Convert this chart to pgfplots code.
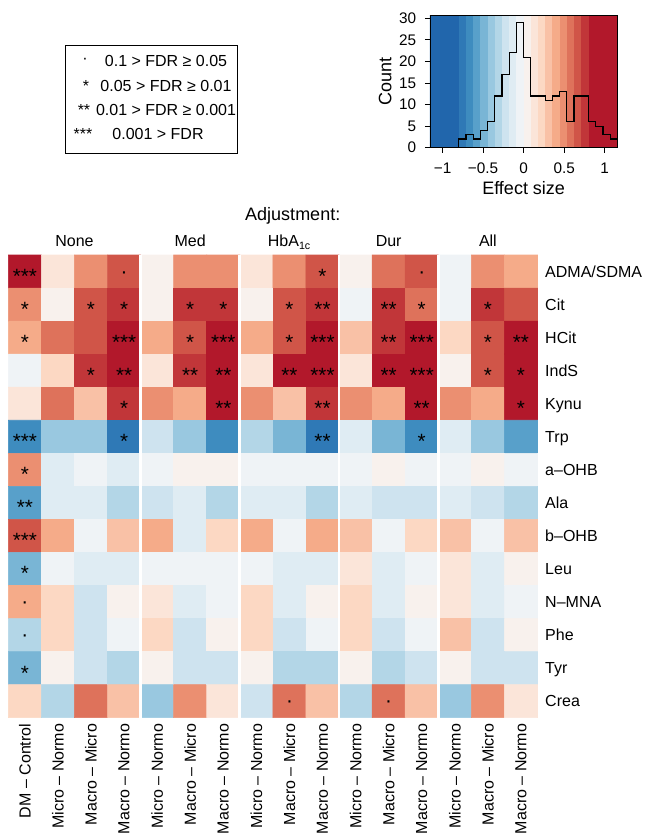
\documentclass[border=0pt]{standalone}
\usepackage{fontspec}
\setmainfont{Liberation Sans}
\usepackage{pgfplots}
\pgfplotsset{compat=1.18}
\newcommand\fA{\fontsize{12}{14}\selectfont}
\newcommand\fB{\fontsize{13.5}{16}\selectfont}
\newcommand\fS{\fontsize{15.5}{18}\selectfont}
\newcommand\fT{\fontsize{11.5}{14}\selectfont}
\newcommand\fL{\fontsize{13.5}{16}\selectfont}
\newcommand\starbox[1]{\raisebox{-0.58em}[0pt][0pt]{#1}}
\newcommand\dotbox[1]{\raisebox{-0.33em}[0pt][0pt]{#1}}
\definecolor{rb0}{RGB}{33,102,172}
\definecolor{rb1}{RGB}{47,121,182}
\definecolor{rb2}{RGB}{62,140,191}
\definecolor{rb3}{RGB}{88,160,202}
\definecolor{rb4}{RGB}{121,181,213}
\definecolor{rb5}{RGB}{153,200,224}
\definecolor{rb6}{RGB}{179,214,231}
\definecolor{rb7}{RGB}{206,227,239}
\definecolor{rb8}{RGB}{223,236,243}
\definecolor{rb9}{RGB}{239,243,246}
\definecolor{rb10}{RGB}{248,241,237}
\definecolor{rb11}{RGB}{251,229,217}
\definecolor{rb12}{RGB}{252,216,195}
\definecolor{rb13}{RGB}{249,193,166}
\definecolor{rb14}{RGB}{245,171,137}
\definecolor{rb15}{RGB}{235,143,113}
\definecolor{rb16}{RGB}{222,114,91}
\definecolor{rb17}{RGB}{208,85,72}
\definecolor{rb18}{RGB}{193,54,57}
\definecolor{rb19}{RGB}{178,24,43}
\pgfplotsset{colormap={rdbu}{rgb255=(33,102,172) rgb255=(47,121,182) rgb255=(62,140,191) rgb255=(88,160,202) rgb255=(121,181,213) rgb255=(153,200,224) rgb255=(179,214,231) rgb255=(206,227,239) rgb255=(223,236,243) rgb255=(239,243,246) rgb255=(248,241,237) rgb255=(251,229,217) rgb255=(252,216,195) rgb255=(249,193,166) rgb255=(245,171,137) rgb255=(235,143,113) rgb255=(222,114,91) rgb255=(208,85,72) rgb255=(193,54,57) rgb255=(178,24,43)}}
\begin{document}
\begin{tikzpicture}[x=0.75pt,y=0.75pt]
\useasboundingbox (0,0) rectangle (646,834);

% ---------------- heatmap ----------------
\begin{axis}[
  at={(204.675pt,260.74pt)}, anchor=center,
  scale only axis, width=396.9pt, height=347pt,
  xmin=-0.5, xmax=15.5, ymin=-0.5, ymax=13.5, y dir=reverse,
  axis line style={draw=none}, major tick length=0pt,
  xtick={0,...,15},
  xticklabels={DM – Control, Micro – Normo, Macro – Micro, Macro – Normo, Micro – Normo, Macro – Micro, Macro – Normo, Micro – Normo, Macro – Micro, Macro – Normo, Micro – Normo, Macro – Micro, Macro – Normo, Micro – Normo, Macro – Micro, Macro – Normo},
  ytick={0,...,13},
  yticklabels={ADMA/SDMA, Cit, HCit, IndS, Kynu, Trp, a–OHB, Ala, b–OHB, Leu, N–MNA, Phe, Tyr, Crea},
  yticklabel pos=right,
  xticklabel style={font=\fA, inner sep=0pt, yshift=-4.4pt, rotate=90, anchor=east},
  yticklabel style={font=\fA, inner sep=0pt, anchor=base west, xshift=5.6pt, yshift=-4.3pt},
  colormap name=rdbu, point meta min=0, point meta max=19,
  clip=false,
]
\addplot[matrix plot*, mesh/cols=16, point meta=explicit] coordinates {
(0,0)[19] (1,0)[11] (2,0)[15] (3,0)[17] (4,0)[10] (5,0)[15] (6,0)[15] (7,0)[11] (8,0)[15] (9,0)[17] (10,0)[10] (11,0)[16] (12,0)[17] (13,0)[9] (14,0)[15] (15,0)[14]
(0,1)[15] (1,1)[10] (2,1)[17] (3,1)[18] (4,1)[10] (5,1)[18] (6,1)[18] (7,1)[10] (8,1)[17] (9,1)[18] (10,1)[9] (11,1)[18] (12,1)[16] (13,1)[9] (14,1)[18] (15,1)[17]
(0,2)[14] (1,2)[16] (2,2)[17] (3,2)[19] (4,2)[14] (5,2)[17] (6,2)[19] (7,2)[14] (8,2)[17] (9,2)[19] (10,2)[13] (11,2)[18] (12,2)[19] (13,2)[12] (14,2)[17] (15,2)[19]
(0,3)[9] (1,3)[12] (2,3)[18] (3,3)[19] (4,3)[11] (5,3)[18] (6,3)[19] (7,3)[11] (8,3)[19] (9,3)[19] (10,3)[11] (11,3)[19] (12,3)[19] (13,3)[10] (14,3)[17] (15,3)[19]
(0,4)[11] (1,4)[16] (2,4)[13] (3,4)[18] (4,4)[15] (5,4)[14] (6,4)[19] (7,4)[15] (8,4)[13] (9,4)[18] (10,4)[15] (11,4)[14] (12,4)[19] (13,4)[15] (14,4)[14] (15,4)[19]
(0,5)[2] (1,5)[5] (2,5)[5] (3,5)[1] (4,5)[7] (5,5)[5] (6,5)[2] (7,5)[6] (8,5)[4] (9,5)[1] (10,5)[8] (11,5)[4] (12,5)[2] (13,5)[8] (14,5)[5] (15,5)[3]
(0,6)[15] (1,6)[8] (2,6)[9] (3,6)[8] (4,6)[9] (5,6)[10] (6,6)[10] (7,6)[9] (8,6)[9] (9,6)[9] (10,6)[9] (11,6)[10] (12,6)[9] (13,6)[9] (14,6)[10] (15,6)[9]
(0,7)[3] (1,7)[8] (2,7)[8] (3,7)[6] (4,7)[7] (5,7)[8] (6,7)[6] (7,7)[8] (8,7)[8] (9,7)[6] (10,7)[8] (11,7)[7] (12,7)[7] (13,7)[8] (14,7)[7] (15,7)[6]
(0,8)[17] (1,8)[14] (2,8)[9] (3,8)[13] (4,8)[14] (5,8)[8] (6,8)[12] (7,8)[14] (8,8)[9] (9,8)[14] (10,8)[13] (11,8)[9] (12,8)[12] (13,8)[13] (14,8)[9] (15,8)[13]
(0,9)[4] (1,9)[9] (2,9)[8] (3,9)[8] (4,9)[9] (5,9)[9] (6,9)[9] (7,9)[9] (8,9)[8] (9,9)[8] (10,9)[11] (11,9)[8] (12,9)[9] (13,9)[11] (14,9)[8] (15,9)[10]
(0,10)[14] (1,10)[12] (2,10)[7] (3,10)[10] (4,10)[11] (5,10)[8] (6,10)[9] (7,10)[12] (8,10)[8] (9,10)[10] (10,10)[12] (11,10)[8] (12,10)[10] (13,10)[11] (14,10)[8] (15,10)[9]
(0,11)[6] (1,11)[12] (2,11)[7] (3,11)[9] (4,11)[12] (5,11)[7] (6,11)[10] (7,11)[12] (8,11)[7] (9,11)[9] (10,11)[12] (11,11)[7] (12,11)[9] (13,11)[13] (14,11)[7] (15,11)[10]
(0,12)[4] (1,12)[10] (2,12)[7] (3,12)[6] (4,12)[10] (5,12)[7] (6,12)[7] (7,12)[10] (8,12)[6] (9,12)[6] (10,12)[10] (11,12)[6] (12,12)[7] (13,12)[10] (14,12)[7] (15,12)[7]
(0,13)[12] (1,13)[6] (2,13)[16] (3,13)[13] (4,13)[5] (5,13)[15] (6,13)[11] (7,13)[7] (8,13)[16] (9,13)[13] (10,13)[6] (11,13)[16] (12,13)[13] (13,13)[5] (14,13)[15] (15,13)[11]
};
\addplot[white, line width=2pt, forget plot] coordinates {(3.5,-0.5) (3.5,13.5)};
\addplot[white, line width=2pt, forget plot] coordinates {(6.5,-0.5) (6.5,13.5)};
\addplot[white, line width=2pt, forget plot] coordinates {(9.5,-0.5) (9.5,13.5)};
\addplot[white, line width=2pt, forget plot] coordinates {(12.5,-0.5) (12.5,13.5)};
% significance stars
\addplot[only marks, mark=none, point meta=explicit symbolic,
  nodes near coords={\starbox{\pgfplotspointmeta}}, nodes near coords align={center},
  every node near coord/.append style={font=\fS, black, inner sep=0pt, anchor=center}] coordinates {
(0,0)[***] (9,0)[*]
(0,1)[*] (2,1)[*] (3,1)[*] (5,1)[*] (6,1)[*] (8,1)[*] (9,1)[**] (11,1)[**] (12,1)[*] (14,1)[*]
(0,2)[*] (3,2)[***] (5,2)[*] (6,2)[***] (8,2)[*] (9,2)[***] (11,2)[**] (12,2)[***] (14,2)[*] (15,2)[**]
(2,3)[*] (3,3)[**] (5,3)[**] (6,3)[**] (8,3)[**] (9,3)[***] (11,3)[**] (12,3)[***] (14,3)[*] (15,3)[*]
(3,4)[*] (6,4)[**] (9,4)[**] (12,4)[**] (15,4)[*]
(0,5)[***] (3,5)[*] (9,5)[**] (12,5)[*]
(0,6)[*] (0,7)[**] (0,8)[***] (0,9)[*] (0,12)[*]
};
\addplot[only marks, mark=none, point meta=explicit symbolic,
  nodes near coords={\dotbox{\pgfplotspointmeta}}, nodes near coords align={center},
  every node near coord/.append style={font=\fS, black, inner sep=0pt, anchor=center}] coordinates {
(3,0)[·] (12,0)[·] (0,10)[·] (0,11)[·] (8,13)[·] (11,13)[·]
};
\node[font=\fA, anchor=base, yshift=6.2pt] at (axis cs:1.5,-0.5) {None};
\node[font=\fA, anchor=base, yshift=6.2pt] at (axis cs:5,-0.5) {Med};
\node[font=\fA, anchor=base, yshift=6.2pt] at (axis cs:8,-0.5) {HbA\textsubscript{1c}};
\node[font=\fA, anchor=base, yshift=6.2pt] at (axis cs:11,-0.5) {Dur};
\node[font=\fA, anchor=base, yshift=6.2pt] at (axis cs:14,-0.5) {All};
\node[font=\fB, anchor=base, yshift=25.7pt] at (axis cs:8.1,-0.5) {Adjustment:};
\end{axis}

% ---------------- histogram ----------------
\begin{axis}[
  at={(392.74pt,564.49pt)}, anchor=center,
  scale only axis, width=140.5pt, height=99.5pt,
  xmin=-1.1556, xmax=1.1556, ymin=0, ymax=30.77,
  axis on top, tick align=outside, xtick pos=lower, ytick pos=left,
  major tick length=3.75pt,
  tick style={black, line width=0.6pt}, axis line style={black, line width=0.6pt},
  xtick={-1,-0.5,0,0.5,1}, xticklabels={−1,−0.5,0,0.5,1},
  ytick={0,5,10,15,20,25,30}, yticklabels={0,5,10,15,20,25,30},
  xticklabel style={font=\fT, inner sep=0pt, anchor=base, yshift=-15.7pt},
  yticklabel style={font=\fT, inner sep=0pt, anchor=east, xshift=-6.5pt},
  xlabel={Effect size}, ylabel={Count},
  xlabel style={font=\fL, at={([yshift=-35pt]axis description cs:0.5,0)}, anchor=base, inner sep=0pt},
  ylabel style={font=\fL, at={([xshift=-33.7pt]axis description cs:0,0.5)}, anchor=center, inner sep=0pt},
]
\addplot[fill=rb0, draw=none] coordinates {(-1.3,30.77) (-0.797,30.77)} \closedcycle;
\addplot[fill=rb1, draw=none] coordinates {(-0.8,30.77) (-0.708,30.77)} \closedcycle;
\addplot[fill=rb2, draw=none] coordinates {(-0.71111,30.77) (-0.619,30.77)} \closedcycle;
\addplot[fill=rb3, draw=none] coordinates {(-0.62222,30.77) (-0.530,30.77)} \closedcycle;
\addplot[fill=rb4, draw=none] coordinates {(-0.53333,30.77) (-0.441,30.77)} \closedcycle;
\addplot[fill=rb5, draw=none] coordinates {(-0.44444,30.77) (-0.352,30.77)} \closedcycle;
\addplot[fill=rb6, draw=none] coordinates {(-0.35556,30.77) (-0.264,30.77)} \closedcycle;
\addplot[fill=rb7, draw=none] coordinates {(-0.26667,30.77) (-0.175,30.77)} \closedcycle;
\addplot[fill=rb8, draw=none] coordinates {(-0.17778,30.77) (-0.086,30.77)} \closedcycle;
\addplot[fill=rb9, draw=none] coordinates {(-0.08889,30.77) (0.003,30.77)} \closedcycle;
\addplot[fill=rb10, draw=none] coordinates {(0,30.77) (0.092,30.77)} \closedcycle;
\addplot[fill=rb11, draw=none] coordinates {(0.08889,30.77) (0.181,30.77)} \closedcycle;
\addplot[fill=rb12, draw=none] coordinates {(0.17778,30.77) (0.270,30.77)} \closedcycle;
\addplot[fill=rb13, draw=none] coordinates {(0.26667,30.77) (0.359,30.77)} \closedcycle;
\addplot[fill=rb14, draw=none] coordinates {(0.35556,30.77) (0.448,30.77)} \closedcycle;
\addplot[fill=rb15, draw=none] coordinates {(0.44444,30.77) (0.537,30.77)} \closedcycle;
\addplot[fill=rb16, draw=none] coordinates {(0.53333,30.77) (0.625,30.77)} \closedcycle;
\addplot[fill=rb17, draw=none] coordinates {(0.62222,30.77) (0.714,30.77)} \closedcycle;
\addplot[fill=rb18, draw=none] coordinates {(0.71111,30.77) (0.803,30.77)} \closedcycle;
\addplot[fill=rb19, draw=none] coordinates {(0.8,30.77) (1.3,30.77)} \closedcycle;
\addplot[const plot, black, line width=0.9pt] coordinates {
(-0.8,0) (-0.8,2) (-0.71111,3) (-0.62222,2) (-0.53333,4) (-0.44444,6) (-0.35556,12) (-0.26667,17) (-0.17778,22) (-0.08889,29) (0,21) (0.08889,12) (0.17778,12) (0.26667,11) (0.35556,12) (0.44444,13) (0.53333,6) (0.62222,12) (0.71111,12) (0.8,6) (0.88889,5) (0.97778,3) (1.06667,2) (1.1556,2)};
\end{axis}

% ---------------- legend ----------------
\draw[line width=0.6pt] (65,681) rectangle (237,789);
\node[font=\fA] at (85,773) {·};
\node[font=\fA] at (86,748) {*};
\node[font=\fA] at (84,724) {**};
\node[font=\fA] at (83,700) {***};
\node[font=\fA] at (166,773) {0.1 > FDR ≥ 0.05};
\node[font=\fA] at (166,748) {0.05 > FDR ≥ 0.01};
\node[font=\fA] at (166,724) {0.01 > FDR ≥ 0.001};
\node[font=\fA] at (158,700) {0.001 > FDR};
\end{tikzpicture}
\end{document}
